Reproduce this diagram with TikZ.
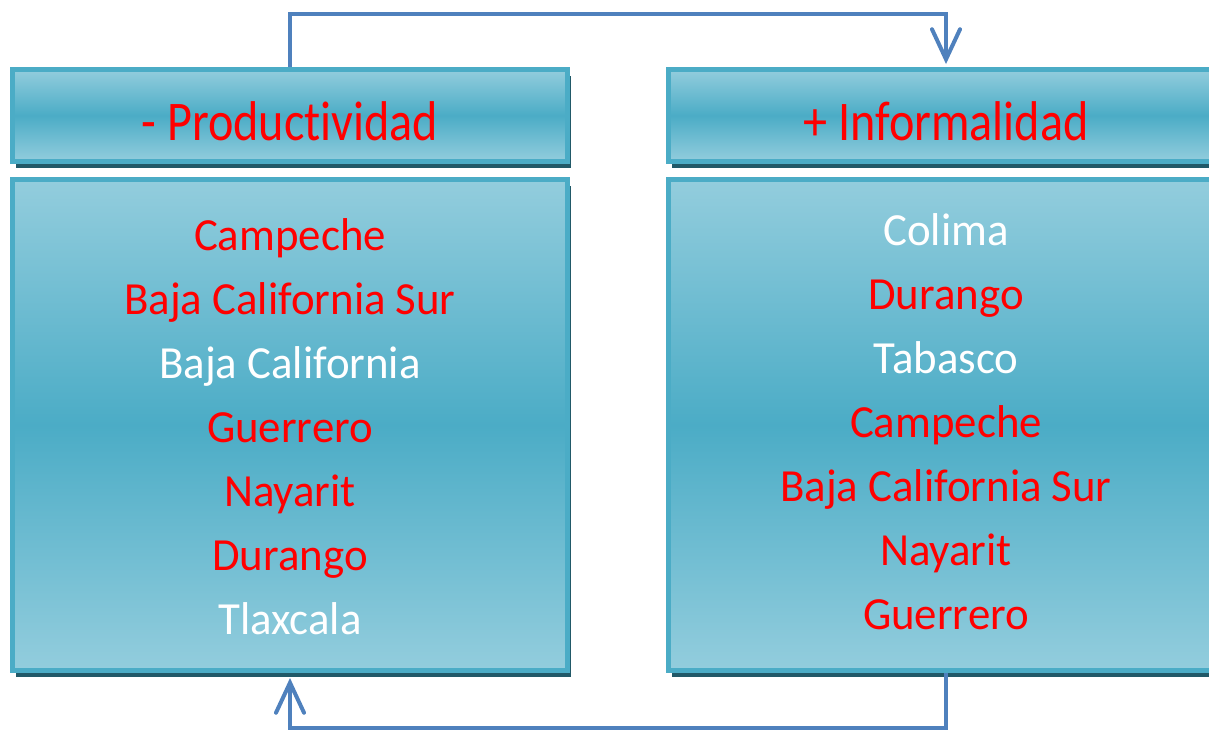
\documentclass[tikz,border=0pt]{standalone}
\usepackage{fontspec}
\setmainfont{Carlito}[Ligatures=NoCommon]
\usetikzlibrary{arrows.meta,shadows}
\definecolor{edgec}{HTML}{4BACC6}
\definecolor{lightc}{HTML}{93CDDD}
\definecolor{shadowc}{HTML}{215968}
\definecolor{conncol}{HTML}{4F81BD}
\definecolor{redt}{HTML}{FF0000}
\begin{document}
\begin{tikzpicture}[x=1pt,y=-1pt,
  box/.style={draw=edgec, line width=5pt, top color=lightc, bottom color=lightc, middle color=edgec,
    drop shadow={shadow xshift=3pt, shadow yshift=-6pt, fill=shadowc, opacity=1},
    inner sep=0pt, minimum width=555pt},
  hdrbox/.style={box, minimum height=92pt},
  bodybox/.style={box, minimum height=491pt},
  hdrtxt/.style={anchor=base, font=\fontsize{56}{60}\selectfont, text=redt, inner sep=0pt, xscale=0.86},
  txt/.style={anchor=base, font=\fontsize{46}{50}\selectfont, inner sep=0pt, xscale=0.975},
  rt/.style={txt, text=redt},
  wt/.style={txt, text=white},
  conn/.style={draw=conncol, line width=4pt, -{Straight Barb[length=30pt,width=28pt,line cap=round]}}
]
\useasboundingbox (0,0) rectangle (1209,729);
% boxes
\node[hdrbox] (lh) at (290,115.5) {};
\node[bodybox] (lb) at (290,425) {};
\node[hdrbox] (rh) at (946,115.5) {};
\node[bodybox] (rb) at (946,425) {};
% headers
\node[hdrtxt] (lht) at (290,140) {- Productividad};
\node[hdrtxt] (rht) at (946,140) {+ Informalidad};
% left list
\node[rt] (l1) at (290,250) {Campeche};
\node[rt] (l2) at (290,314) {Baja California Sur};
\node[wt] (l3) at (290,378) {Baja California};
\node[rt] (l4) at (290,442) {Guerrero};
\node[rt] (l5) at (290,506) {Nayarit};
\node[rt] (l6) at (290,570) {Durango};
\node[wt] (l7) at (290,634) {Tlaxcala};
% right list
\node[wt] (r1) at (946,245) {Colima};
\node[rt] (r2) at (946,309) {Durango};
\node[wt] (r3) at (946,373) {Tabasco};
\node[rt] (r4) at (946,437) {Campeche};
\node[rt] (r5) at (946,501) {Baja California Sur};
\node[rt] (r6) at (946,565) {Nayarit};
\node[rt] (r7) at (946,629) {Guerrero};
% connectors
\draw[conn, shorten >=3pt] (lh.north) -- ++(0,-53) -| (rh.north);
\draw[conn, shorten >=5pt] (rb.south) -- ++(0,55) -| (lb.south);
\end{tikzpicture}
\end{document}
